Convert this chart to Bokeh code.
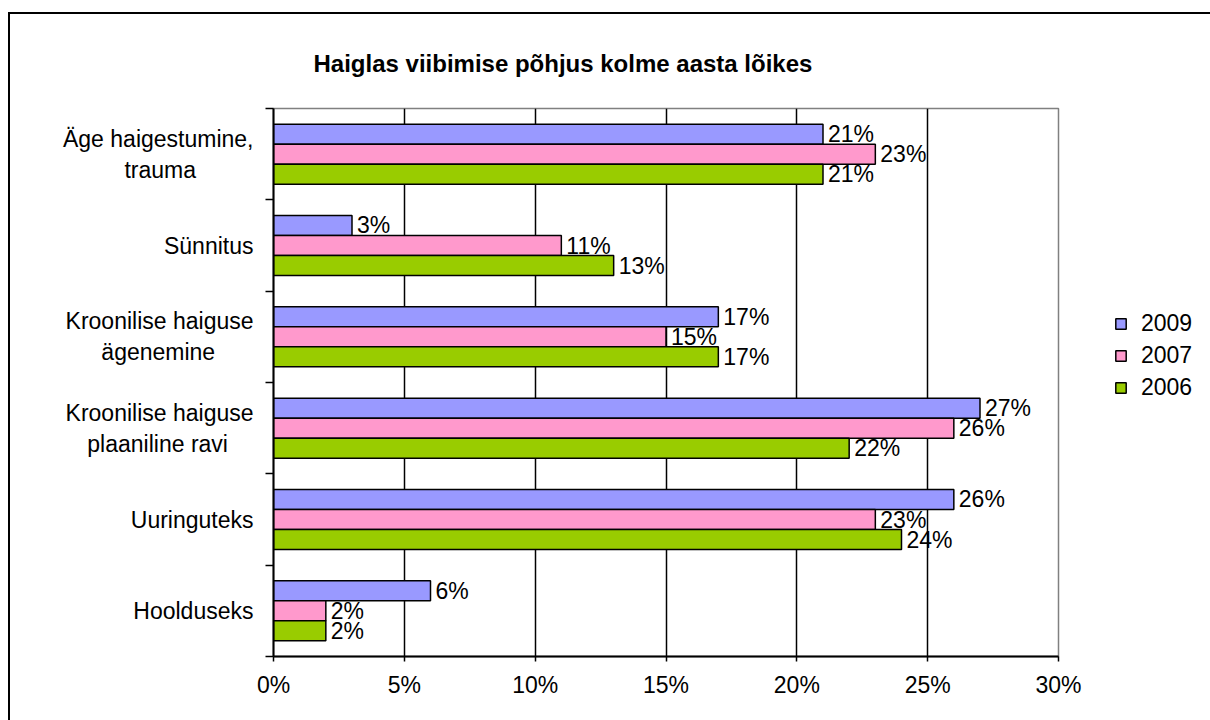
from bokeh.plotting import figure
from bokeh.models import Range1d, FixedTicker, Legend, LegendItem, ColumnDataSource
from bokeh.embed import file_html
from bokeh.resources import INLINE
from bokeh.core.properties import value

# ---- data ----
NB = "\u00a0"
categories = [
    "Äge haigestumine,\ntrauma" + NB * 9,
    "Sünnitus",
    "Kroonilise haiguse\nägenemine" + NB * 6,
    "Kroonilise haiguse\nplaaniline ravi" + NB * 4,
    "Uuringuteks",
    "Hoolduseks",
]
years = ["2009", "2007", "2006"]
v2009 = [21, 3, 17, 27, 26, 6]
v2007 = [23, 11, 15, 26, 23, 2]
v2006 = [21, 13, 17, 22, 24, 2]
x_ticks = [0, 5, 10, 15, 20, 25, 30]
title_text = "Haiglas viibimise põhjus kolme aasta lõikes"

series = [v2009, v2007, v2006]
colors = ["#9999FF", "#FF99CC", "#99CC00"]
FONT = "Liberation Sans"
FS = "23px"
BAR_H = 0.219
offsets = [-BAR_H, 0.0, BAR_H]

p = figure(
    frame_width=785, frame_height=548,
    x_range=Range1d(0, 30), y_range=Range1d(len(categories), 0),
    output_backend="svg", toolbar_location=None,
    min_border_left=263, min_border_right=150,
    min_border_top=94, min_border_bottom=64,
    background_fill_color="white", border_fill_color="white",
)
# outer chart border (only its top and left edges fall inside the window)
p.styles = {"border-top": "2px solid black", "border-left": "2px solid black",
            "margin-top": "12px", "margin-left": "8px"}

p.title.text = title_text
p.title.text_font = FONT
p.title.text_font_size = "24px"
p.title.text_font_style = "bold"
p.title.align = "left"
p.title.offset = 40
p.title.standoff = 64
p.title.text_color = "black"

p.outline_line_color = "#808080"
p.outline_line_width = 1.5

# x axis
p.xaxis.ticker = FixedTicker(ticks=x_ticks)
p.xaxis.major_label_overrides = {t: f"{t}%" for t in x_ticks}
p.xaxis.major_label_text_font = FONT
p.xaxis.major_label_text_font_size = FS
p.xaxis.major_label_text_color = "black"
p.xaxis.axis_line_color = "black"
p.xaxis.axis_line_width = 2
p.xaxis.major_tick_line_color = "black"
p.xaxis.major_tick_line_width = 1.5
p.xaxis.major_tick_out = 5
p.xaxis.major_tick_in = 0
p.xaxis.minor_tick_line_color = None
p.xaxis.major_label_standoff = 10

# y axis: labels at band centres, tick marks at band boundaries
centers = [i + 0.5 for i in range(len(categories))]
bounds = list(range(len(categories) + 1))
p.yaxis.ticker = FixedTicker(ticks=centers, minor_ticks=bounds)
p.yaxis.major_label_overrides = {c: lab for c, lab in zip(centers, categories)}
p.yaxis.major_label_text_font = FONT
p.yaxis.major_label_text_font_size = FS
p.yaxis.major_label_text_color = "black"
p.yaxis.major_tick_line_color = None
p.yaxis.major_tick_out = 0
p.yaxis.major_tick_in = 0
p.yaxis.minor_tick_line_color = "black"
p.yaxis.minor_tick_line_width = 1.5
p.yaxis.minor_tick_out = 8
p.yaxis.minor_tick_in = 0
p.yaxis.axis_line_color = "black"
p.yaxis.axis_line_width = 2
p.yaxis.major_label_standoff = 12

p.xgrid.ticker = FixedTicker(ticks=x_ticks[1:-1])
p.xgrid.grid_line_color = "black"
p.xgrid.grid_line_width = 1.5
p.ygrid.visible = False

items = []
for yr, vals, col, off in zip(years, series, colors, offsets):
    src = ColumnDataSource(dict(
        y=[c + off for c in centers],
        right=vals,
        lab=[f"{v}%" for v in vals],
    ))
    r = p.hbar(y="y", right="right", left=0, height=BAR_H, source=src,
               fill_color=col, line_color="black", line_width=1.5)
    p.text(x="right", y="y", text="lab", source=src, x_offset=5,
           text_baseline="middle", text_align="left",
           text_font=value(FONT), text_font_size=FS, text_color="black")
    items.append(LegendItem(label=yr, renderers=[r]))

legend = Legend(items=items, location=(56, 255))
legend.border_line_color = None
legend.background_fill_alpha = 0
legend.padding = 0
legend.margin = 0
legend.spacing = 5
legend.glyph_width = 13
legend.glyph_height = 13
legend.label_standoff = 14
legend.label_text_font = FONT
legend.label_text_font_size = FS
legend.label_text_color = "black"
p.add_layout(legend, "right")

open("out.html", "w").write(file_html(p, INLINE))
